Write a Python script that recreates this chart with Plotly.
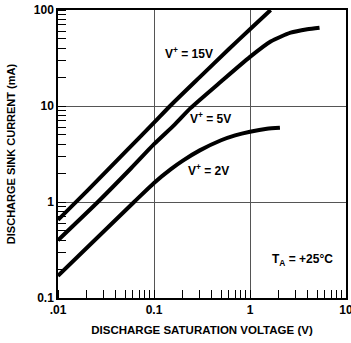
import plotly.graph_objects as go

# Discharge saturation voltage (V) vs discharge sink current (mA)
v15_x = [0.01, 0.02, 0.05, 0.1, 0.147, 0.3, 0.6, 1.0, 1.64]
v15_y = [0.65, 1.3, 3.3, 6.7, 10.0, 20.0, 39.0, 63.0, 100.0]

v5_x = [0.01, 0.026, 0.058, 0.1, 0.164, 0.24, 0.5, 1.0, 1.64, 2.65, 3.95, 5.3]
v5_y = [0.40, 1.0, 2.26, 4.0, 6.4, 9.5, 18.0, 32.5, 47.0, 58.0, 63.0, 65.5]

v2_x = [0.01, 0.062, 0.1, 0.15, 0.2, 0.3, 0.5, 0.7, 1.0, 1.5, 2.05]
v2_y = [0.17, 1.0, 1.58, 2.2, 2.7, 3.45, 4.4, 4.95, 5.4, 5.8, 5.95]

x_tickvals = [0.01, 0.1, 1, 10]
x_ticktext = [".01", "0.1", "1", "10"]
y_tickvals = [0.1, 1, 10, 100]
y_ticktext = ["0.1", "1", "10", "100"]

FONT = "Liberation Sans, Arial, sans-serif"

fig = go.Figure()
for xs, ys in [(v15_x, v15_y), (v5_x, v5_y), (v2_x, v2_y)]:
    fig.add_trace(go.Scatter(x=xs, y=ys, mode="lines",
                             line=dict(color="black", width=4, shape="spline", smoothing=0.6),
                             showlegend=False, hoverinfo="skip"))

axis_common = dict(
    type="log", showgrid=True, gridcolor="#555555", gridwidth=1,
    showline=True, linecolor="black", linewidth=1.5, mirror=True,
    ticks="", zeroline=False, automargin=False, ticklabeloverflow="allow",
    tickfont=dict(family=FONT, size=12, color="black", weight="bold"),
    minor=dict(ticks="inside", ticklen=8, tickcolor="black", tickwidth=1,
               dtick="D1", showgrid=False),
)

fig.update_xaxes(range=[-2, 1], tickmode="array", tickvals=x_tickvals, ticktext=x_ticktext,
                 title=dict(text="DISCHARGE SATURATION VOLTAGE (V)", standoff=10,
                            font=dict(family=FONT, size=11.5, color="black", weight="bold")),
                 **axis_common)
fig.update_yaxes(range=[-1, 2], tickmode="array", tickvals=y_tickvals, ticktext=y_ticktext,
                 title=dict(text="DISCHARGE SINK CURRENT (mA)", standoff=16,
                            font=dict(family=FONT, size=11, color="black", weight="bold")),
                 **axis_common)

ann_font = dict(family=FONT, size=12, color="black", weight="bold")
labels = [
    ("V<sup>+</sup> = 15V", 0.456, 0.851),
    ("V<sup>+</sup> = 5V", 0.529, 0.625),
    ("V<sup>+</sup> = 2V", 0.522, 0.444),
    ("T<sub>A</sub> = +25°C", 0.849, 0.132),
]
for txt, px, py in labels:
    fig.add_annotation(text=txt, x=px, y=py, xref="paper", yref="paper",
                       showarrow=False, font=ann_font, xanchor="center", yanchor="middle")

fig.update_layout(
    width=351, height=343,
    margin=dict(l=58, r=5, t=10, b=45),
    plot_bgcolor="white", paper_bgcolor="white",
)

# remove the default page margin so the figure fills the window exactly
fig.write_html("out.html", config={"displayModeBar": False},
               post_script="document.body.style.margin='0';")
